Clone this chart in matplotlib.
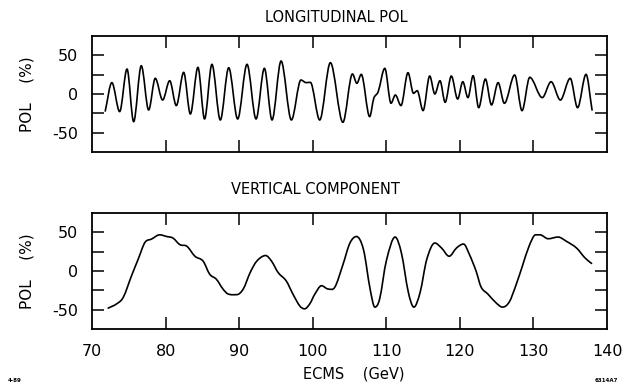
import matplotlib
matplotlib.use("Agg")
import matplotlib.pyplot as plt
from matplotlib.path import Path
from matplotlib.patches import PathPatch

# ---- data ----
long_x = [71.8, 72.7, 73.76, 74.76, 75.66, 76.7, 77.7, 78.6, 79.6, 80.56, 81.46, 82.46,
          83.37, 84.4, 85.3, 86.3, 87.44, 88.58, 89.8, 91.07, 92.3, 93.43, 94.47, 95.7,
          97.1, 98.4, 99.1, 99.68, 100.95, 102.4, 104.1, 105.4, 106.0, 106.6, 107.74,
          108.3, 108.9, 109.8, 110.64, 111.23, 112.0, 112.95, 113.7, 114.2, 115.0,
          115.9, 116.6, 117.3, 118.0, 118.84, 119.7, 120.4, 121.1, 121.8, 122.56,
          123.47, 124.3, 125.2, 126.05, 127.45, 128.45, 129.5, 131.2, 132.4, 133.66,
          135.0, 136.0, 137.15, 137.97]
long_y = [-22, 14.7, -22.8, 32.3, -35.8, 36.6, -20.7, 20.3, -7.8, 17.2, -15, 28,
          -25.9, 34.5, -32.3, 38.4, -33.6, 34, -32.3, 38.4, -32.3, 33.2, -33.6, 42.7,
          -33.6, 18.1, 14.7, 15.1, -33.6, 40.5, -36.6, 25.9, 13.8, 25.4, -29.3,
          -5.6, 3, 33.2, -12, -1.3, -15, 27.6, 0.9, 4.3, -21.5,
          23.3, 0, 17.2, -10.8, 23.3, -6.5, 15.9, -4.7, 23.7, -17.7,
          19.4, -14.2, 14.7, -12, 24.6, -21.5, 21.6, -4.7, 15.9, -7.8,
          20.3, -17.7, 25.4, -20.7]

vert_x = [72.2, 73.35, 74.25, 75.4, 76.3, 77.2, 78.1, 79.2, 80.15, 81.0, 81.96, 82.9,
          84.0, 85.1, 86.0, 86.9, 87.8, 88.5, 89.66, 90.56, 91.5, 92.4, 93.6, 94.4,
          95.3, 96.4, 97.3, 98.26, 98.9, 99.6, 100.3, 101.2, 102.1, 103.0, 104.1,
          105.05, 105.95, 106.9, 107.8, 108.45, 109.1, 110.0, 111.2, 112.05, 113.0,
          113.75, 114.6, 115.5, 116.6, 117.5, 118.55, 119.55, 120.5, 121.3, 122.2,
          122.9, 123.8, 124.9, 125.8, 126.7, 127.6, 128.5, 129.4, 130.3, 130.9, 132.0,
          133.35, 134.5, 135.85, 137.0, 137.9]
vert_y = [-48, -42.5, -34, -5.5, 15.8, 37, 41.3, 46.8, 44.6, 42.6, 34, 32,
          19, 12.8, -4.2, -10.6, -23.3, -29.7, -30.6, -23.3, -2, 12.8, 20, 12.8,
          -2, -12.8, -29.7, -45.4, -48.9, -42.5, -29.7, -19, -23.3, -21, 8,
          36, 44.6, 27.7, -23.3, -46.7, -36, 12.8, 43.9, 23.5, -27.6,
          -46.7, -27.6, 15, 36.2, 29.8, 19.1, 29.8, 34.9, 21.3, 0,
          -21, -29.7, -41, -46.7, -40.3, -19, 6.4, 31.9, 46.8, 46.8, 41.7,
          43.9, 38.3, 29.8, 17, 9.8]

x_ticks = [80, 90, 100, 110, 120, 130]
x_label_pos = [70, 80, 90, 100, 110, 120, 130, 140]
x_ticklabels = ["70", "80", "90", "100", "110", "120", "130", "140"]
y_ticks = [-50, -25, 0, 25, 50]
y_ticklabels = ["-50", "", "0", "", "50"]

titles = ["LONGITUDINAL POL", "VERTICAL COMPONENT"]


def smooth_path(xs, ys):
    """Smooth line through the read points (cubic Bezier segments, flat at extrema)."""
    n = len(xs)
    m = []
    for i in range(n):
        if i == 0 or i == n - 1:
            j0, j1 = max(i - 1, 0), min(i + 1, n - 1)
            m.append((ys[j1] - ys[j0]) / (xs[j1] - xs[j0]))
            continue
        d0 = ys[i] - ys[i - 1]
        d1 = ys[i + 1] - ys[i]
        if d0 * d1 <= 0:
            m.append(0.0)
        else:
            m.append((ys[i + 1] - ys[i - 1]) / (xs[i + 1] - xs[i - 1]))
    verts = [(xs[0], ys[0])]
    codes = [Path.MOVETO]
    for i in range(n - 1):
        h = xs[i + 1] - xs[i]
        verts += [(xs[i] + h / 3, ys[i] + m[i] * h / 3),
                  (xs[i + 1] - h / 3, ys[i + 1] - m[i + 1] * h / 3),
                  (xs[i + 1], ys[i + 1])]
        codes += [Path.CURVE4] * 3
    return Path(verts, codes)


plt.rcParams['font.family'] = ['DejaVu Sans']

fig = plt.figure(figsize=(6.26, 3.86), dpi=100)
W, H = 626, 386
left, right = 92, 607
panels = [(36, 152), (213, 329)]
axes = []
for (top, bot) in panels:
    ax = fig.add_axes([left / W, 1 - bot / H, (right - left) / W, (bot - top) / H])
    axes.append(ax)

series = [(long_x, long_y), (vert_x, vert_y)]
for i, ax in enumerate(axes):
    xs, ys = series[i]
    patch = PathPatch(smooth_path(xs, ys), facecolor='none', edgecolor='black',
                      lw=1.2, transform=ax.transData, capstyle='round', joinstyle='round')
    ax.add_patch(patch)
    ax.set_xlim(70, 140)
    ax.set_ylim(-75, 75)
    ax.set_xticks(x_ticks)
    ax.set_yticks(y_ticks)
    ax.set_yticklabels(y_ticklabels)
    ax.tick_params(direction='in', length=8.5, width=1.1, top=True, right=True,
                   labelsize=11.5, pad=10, colors='black')
    ax.set_xticklabels([])
    for sp in ax.spines.values():
        sp.set_linewidth(1.3)
    ax.set_ylabel("POL    (%)", fontsize=11, labelpad=13)

axb = axes[1]
for xv, lab in zip(x_label_pos, x_ticklabels):
    axb.text(xv, -94, lab, ha='center', va='top', fontsize=11.5,
             transform=axb.transData, clip_on=False)

fig.text(336 / W, 1 - 17 / H, titles[0], ha='center', va='center', fontsize=10.5)
fig.text(315 / W, 1 - 189 / H, titles[1], ha='center', va='center', fontsize=10.5)
fig.text(354 / W, 1 - 374 / H, "ECMS    (GeV)", ha='center', va='center', fontsize=10.5)
fig.text(8 / W, 1 - 380 / H, "4-89", ha='left', va='center', fontsize=4, weight='bold')
fig.text(618 / W, 1 - 380 / H, "6314A7", ha='right', va='center', fontsize=4, weight='bold')

fig.savefig("out.png", dpi=100, facecolor='white')
